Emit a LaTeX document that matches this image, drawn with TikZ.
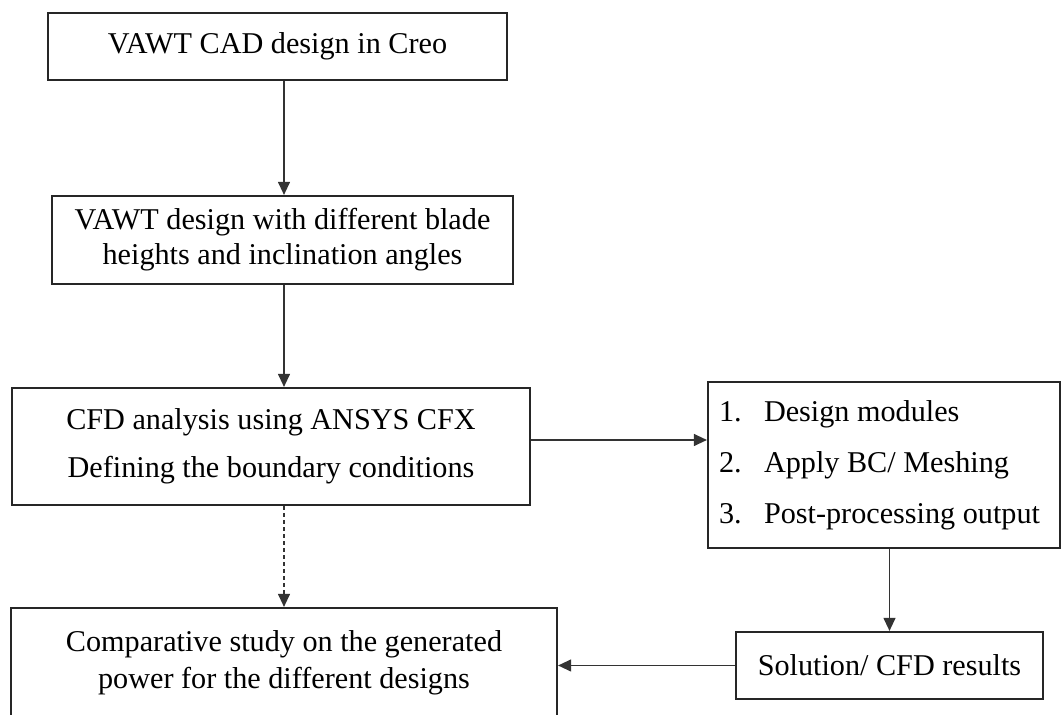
\documentclass[tikz,border=0pt]{standalone}
\usepackage{fontspec}
\setmainfont{Liberation Serif}
\usepackage{tikz}
\usetikzlibrary{positioning, calc, arrows.meta}

\tikzset{
    box/.style={draw=black!85, line width=1.1pt, inner sep=0pt, align=center,
        font=\fontsize{15.1}{17.5}\selectfont},
    arr/.style={draw=black!80, line width=0.6pt, -{Triangle[length=6.5pt, width=6pt]}}
}

\begin{document}
\begin{tikzpicture}[x=0.5pt, y=-0.5pt]
        \useasboundingbox (0,0) rectangle (1062,715);

        % the boxes on the left
        \node[box, minimum width=229.5pt, minimum height=33.5pt] (cad) at (277.5,46.5)
            {VAWT CAD design in Creo};
        \node[box, minimum width=230.5pt, minimum height=44pt] (blade) at (282.5,240)
            {VAWT design with different blade\\heights and inclination angles};
        \node[box, minimum width=259pt, minimum height=58.5pt] (cfd) at (271,446.5)
            {CFD analysis using ANSYS CFX\\[6.5pt]Defining the boundary conditions};
        \node[box, minimum width=273pt, minimum height=55pt] (study) at (284,663)
            {Comparative study on the generated\\[1pt]power for the different designs};

        % the boxes on the right
        \node[box, align=flush left, inner xsep=5.5pt, text width=165pt, minimum height=83pt] (steps) at (884,465)
            {\makebox[22.5pt][l]{1.}Design modules\\[8pt]%
             \makebox[22.5pt][l]{2.}Apply BC/ Meshing\\[8pt]%
             \makebox[22.5pt][l]{3.}Post-processing output};
        \node[box, minimum width=153.5pt, minimum height=33.5pt] (solution) at (889.5,665.5)
            {Solution/ CFD results};

        \coordinate (axis) at (284,0);
        \coordinate (link) at (0,440);

        % the arrows
        \draw[arr] (cad.south -| axis) -- (blade.north -| axis);
        \draw[arr] (blade.south -| axis) -- (cfd.north -| axis);
        \draw[arr, dash pattern=on 2pt off 1.5pt] (cfd.south -| axis) -- (study.north -| axis);
        \draw[arr] (cfd.east |- link) -- (steps.west |- link);
        \draw[arr] (steps.south -| solution) -- (solution.north);
        \draw[arr] (solution.west) -- (study.east |- solution.west);
    \end{tikzpicture}
\end{document}
